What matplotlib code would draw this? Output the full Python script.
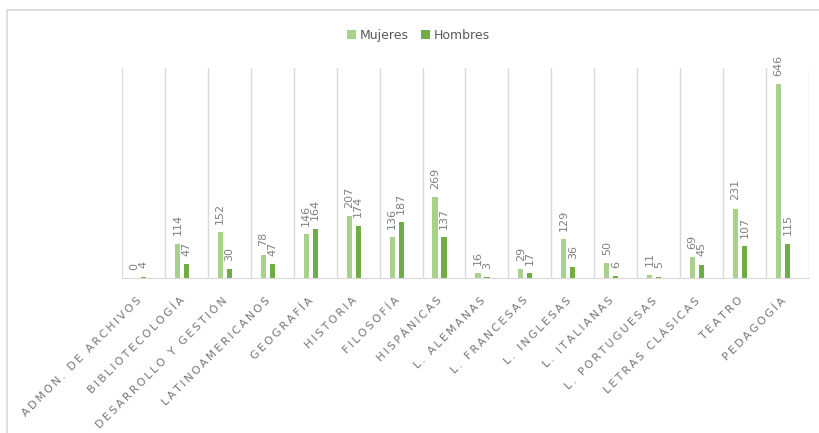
import numpy as np
import matplotlib
matplotlib.use('Agg')
import matplotlib.pyplot as plt
import matplotlib.transforms as mtransforms
from matplotlib.patches import Rectangle

categories = ['Admon. de archivos', 'Bibliotecología', 'Desarrollo y gestión',
              'Latinoamericanos', 'Geografía', 'Historia', 'Filosofía',
              'Hispánicas', 'L. alemanas', 'L. francesas', 'L. inglesas',
              'L. italianas', 'L. portuguesas', 'Letras clásicas', 'Teatro',
              'Pedagogía']
mujeres = [0, 114, 152, 78, 146, 207, 136, 269, 16, 29, 129, 50, 11, 69, 231, 646]
hombres = [4, 47, 30, 47, 164, 174, 187, 137, 3, 17, 36, 6, 5, 45, 107, 115]

c_muj = '#a9d18e'
c_hom = '#70ad47'
grey = '#d9d9d9'
txt = '#808080'


def spaced(s):
    # letter spacing like the original axis labels
    return '\u2009'.join(s.upper())


fig = plt.figure(figsize=(8.2, 4.33), dpi=100)
ax = fig.add_axes([122 / 820, 1 - 278 / 433, 687 / 820, 210 / 433])

x = np.arange(len(categories))
w = 0.12
b1 = ax.bar(x - 0.21, mujeres, w, color=c_muj, label='Mujeres')
b2 = ax.bar(x, hombres, w, color=c_hom, label='Hombres')
ax.bar_label(b1, padding=6, rotation=90, fontsize=8, color=txt)
ax.bar_label(b2, padding=6, rotation=90, fontsize=8, color=txt)

ax.set_xlim(-0.5, len(categories) - 0.5)
ax.set_ylim(0, 700)
ax.set_yticks([])
for xv in np.arange(-0.5, len(categories), 1):
    ax.axvline(xv, color=grey, lw=1, zorder=0)
for s in ['top', 'left', 'right']:
    ax.spines[s].set_visible(False)
ax.spines['bottom'].set_color(grey)

ax.set_xticks(x)
ax.set_xticklabels([spaced(c) for c in categories], rotation=45, ha='right',
                   rotation_mode='anchor', fontsize=7.9, color='#767676')
ax.tick_params(axis='x', length=0, pad=9)
shift = mtransforms.ScaledTranslation(-7 / 100, -5 / 100, fig.dpi_scale_trans)
for lbl in ax.get_xticklabels():
    lbl.set_transform(lbl.get_transform() + shift)

fig.legend(loc='upper center', bbox_to_anchor=(0.51, 0.96), ncol=2, frameon=False,
           fontsize=9, handlelength=0.7, handleheight=0.7, handletextpad=0.3,
           columnspacing=1.0, labelcolor='#595959')

# chart border
fig.patches.append(Rectangle((7 / 820, -0.1), 1.0, 1 - 10 / 433 + 0.1,
                             transform=fig.transFigure, fill=False,
                             edgecolor=grey, lw=1.2))

fig.savefig('out.png', dpi=100)
